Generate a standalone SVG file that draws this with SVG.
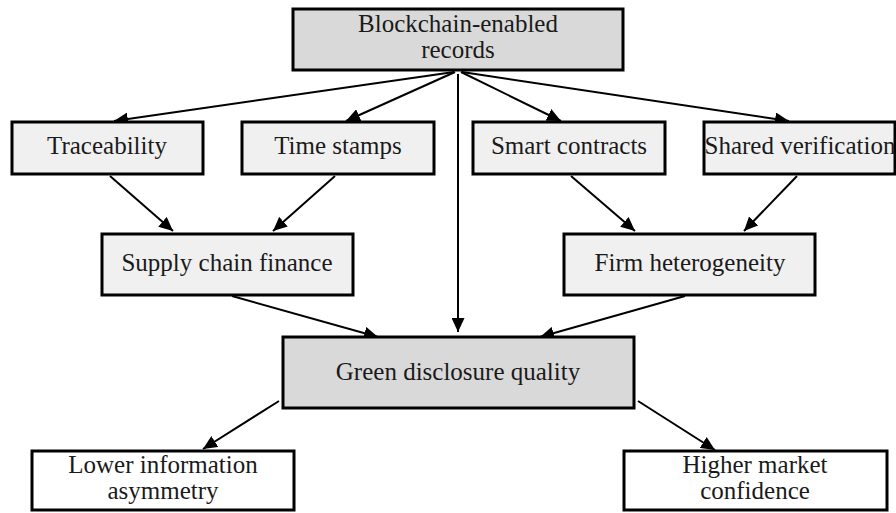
<svg xmlns="http://www.w3.org/2000/svg" width="896" height="513" viewBox="0 0 896 513">
  <style>
    .box rect { stroke: #000; stroke-width: 3; }
    .dark rect { fill: #d9d9d9; }
    .light rect { fill: #f0f0f0; }
    .plain rect { fill: #ffffff; }
    text { font-family: "Liberation Serif", "Times New Roman", serif; font-size: 25px; fill: #1a1a1a; text-anchor: middle; }
    .edges line { stroke: #000; stroke-width: 2; marker-end: url(#arrow); }
  </style>
  <defs>
    <marker id="arrow" markerUnits="userSpaceOnUse" markerWidth="15" markerHeight="13" refX="14" refY="6.5" orient="auto">
      <path d="M0,0 L14,6.5 L0,13 z" fill="#000"/>
    </marker>
  </defs>
  <rect width="896" height="513" fill="#ffffff"/>

  <!-- connectors -->
  <g id="edges" class="edges">
    <line x1="454" y1="72" x2="114" y2="121"/>
    <line x1="455" y1="72" x2="346" y2="121"/>
    <line x1="458" y1="74" x2="458" y2="332"/>
    <line x1="461" y1="72" x2="561" y2="121"/>
    <line x1="462" y1="72" x2="789" y2="121"/>
    <line x1="110" y1="176" x2="173" y2="231"/>
    <line x1="335" y1="176" x2="273" y2="231"/>
    <line x1="571" y1="176" x2="635" y2="231"/>
    <line x1="797" y1="176" x2="744" y2="231"/>
    <line x1="232" y1="296" x2="378" y2="337"/>
    <line x1="685" y1="296" x2="540" y2="337"/>
    <line x1="279" y1="401" x2="203" y2="449"/>
    <line x1="638" y1="401" x2="715" y2="450"/>
  </g>

  <!-- nodes -->
  <g id="blockchain" class="box dark">
    <rect x="293" y="9" width="330" height="61"/>
    <text x="458" y="32">Blockchain-enabled</text>
    <text x="458" y="58">records</text>
  </g>
  <g id="traceability" class="box light">
    <rect x="12" y="122" width="191" height="52"/>
    <text x="107" y="154">Traceability</text>
  </g>
  <g id="timestamps" class="box light">
    <rect x="242" y="122" width="192" height="52"/>
    <text x="338" y="154">Time stamps</text>
  </g>
  <g id="smartcontracts" class="box light">
    <rect x="473" y="122" width="192" height="52"/>
    <text x="569" y="154">Smart contracts</text>
  </g>
  <g id="sharedverification" class="box light">
    <rect x="704" y="122" width="191" height="52"/>
    <text x="800" y="154">Shared verification</text>
  </g>
  <g id="supplychain" class="box light">
    <rect x="102" y="234" width="251" height="61"/>
    <text x="227" y="271">Supply chain finance</text>
  </g>
  <g id="heterogeneity" class="box light">
    <rect x="564" y="234" width="251" height="61"/>
    <text x="690" y="271">Firm heterogeneity</text>
  </g>
  <g id="disclosure" class="box dark">
    <rect x="283" y="337" width="351" height="71"/>
    <text x="458" y="380">Green disclosure quality</text>
  </g>
  <g id="asymmetry" class="box plain">
    <rect x="32" y="451" width="262" height="59"/>
    <text x="163" y="473">Lower information</text>
    <text x="163" y="499">asymmetry</text>
  </g>
  <g id="confidence" class="box plain">
    <rect x="624" y="451" width="263" height="59"/>
    <text x="755" y="473">Higher market</text>
    <text x="755" y="499">confidence</text>
  </g>
</svg>
